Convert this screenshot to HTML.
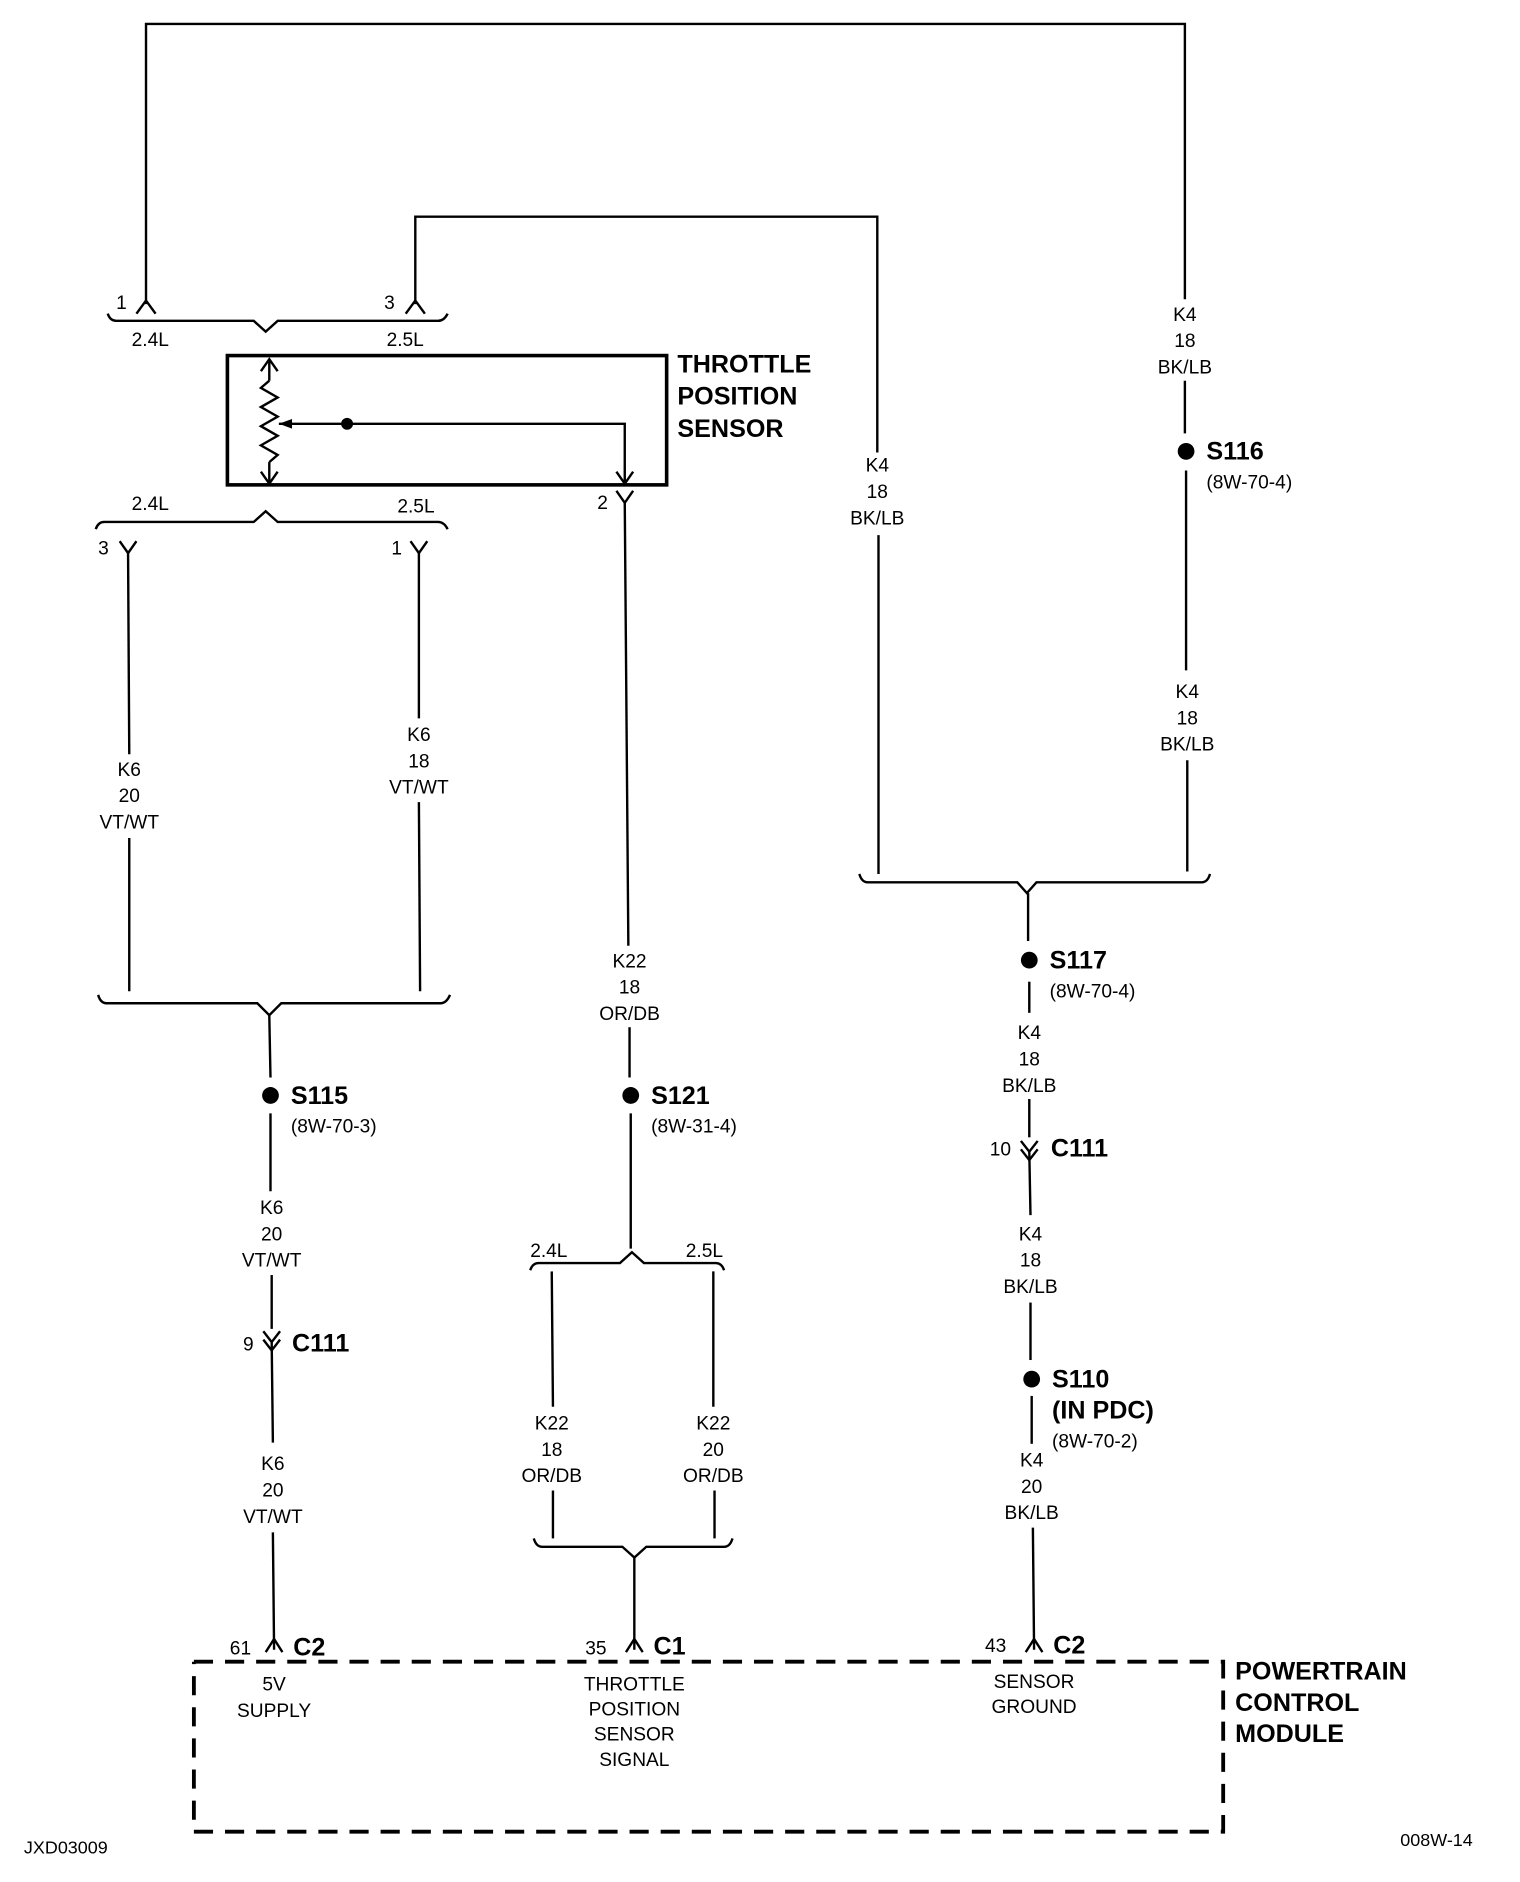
<!DOCTYPE html>
<html><head><meta charset="utf-8"><style>
html,body{margin:0;padding:0;background:#fff;}
svg{display:block;}
text{font-family:"Liberation Sans Narrow","Liberation Sans",sans-serif;font-size:16px;fill:#000;}
.b{font-weight:bold;font-size:21px;}
.m{text-anchor:middle;}
</style></head><body>
<svg width="1520" height="1882" viewBox="0 0 1270 1572" preserveAspectRatio="none" xmlns="http://www.w3.org/2000/svg">
<g fill="none" stroke="#000" stroke-width="2">
<polyline points="122,254 122,20 990,20 990,250"/>
<line x1="990" y1="318" x2="990" y2="362"/>
<line x1="991" y1="393" x2="991" y2="560"/>
<line x1="992" y1="635" x2="992" y2="728"/>
<polyline points="114,262 122,251 130,262"/>
<polyline points="347,254 347,181 733,181 733,378"/>
<line x1="734" y1="447" x2="734" y2="730"/>
<polyline points="339,262 347,251 355,262"/>
<path d="M90,262 Q92,268 97,268 L212,268 L222,277 L232,268 L366,268 Q371,268 374,262"/>
<rect x="190" y="297" width="367" height="108" stroke-width="3"/>
<line x1="225" y1="300" x2="225" y2="318"/>
<polyline points="225,318 218,324 232,332 218,340 232,348 218,356 232,364 218,372 232,380 225,386"/>
<line x1="225" y1="386" x2="225" y2="404"/>
<polyline points="218,310 225,300 232,310"/>
<polyline points="218,394 225,404 232,394"/>
<polyline points="233,354 522,354 522,404"/>
<polyline points="515,394 522,404 529,394"/>
<polyline points="515,410 522,420 529,410"/>
<line x1="522" y1="420" x2="525" y2="790"/>
<line x1="526" y1="858" x2="526" y2="900"/>
<line x1="527" y1="930" x2="527" y2="1043"/>
<path d="M80,442 Q82,436 87,436 L212,436 L222,427 L232,436 L366,436 Q371,436 374,442"/>
<polyline points="100,452 107,462 114,452"/>
<line x1="107" y1="462" x2="108" y2="630"/>
<line x1="108" y1="700" x2="108" y2="828"/>
<polyline points="343,452 350,462 357,452"/>
<line x1="350" y1="462" x2="350" y2="600"/>
<line x1="350" y1="670" x2="351" y2="828"/>
<path d="M82,831 Q84,838 89,838 L215,838 L225,848 L235,838 L368,838 Q373,838 376,831"/>
<line x1="225" y1="848" x2="226" y2="900"/>
<line x1="226" y1="930" x2="226" y2="995"/>
<line x1="227" y1="1065" x2="227" y2="1110"/>
<polyline points="220,1112 227,1121 234,1112"/>
<polyline points="220,1119 227,1128 234,1119"/>
<line x1="227" y1="1121" x2="228" y2="1205"/>
<line x1="228" y1="1280" x2="229" y2="1378"/>
<polyline points="222,1380 229,1369 236,1380"/>
<path d="M443,1061 Q445,1055 450,1055 L518,1055 L528,1046 L538,1055 L598,1055 Q603,1055 605,1061"/>
<line x1="461" y1="1062" x2="462" y2="1175"/>
<line x1="462" y1="1245" x2="462" y2="1285"/>
<line x1="596" y1="1062" x2="596" y2="1175"/>
<line x1="597" y1="1245" x2="597" y2="1285"/>
<path d="M446,1285 Q448,1292 453,1292 L520,1292 L530,1301 L540,1292 L605,1292 Q610,1292 612,1285"/>
<line x1="530" y1="1301" x2="530" y2="1378"/>
<polyline points="523,1380 530,1369 537,1380"/>
<path d="M718,730 Q720,737 725,737 L850,737 L858,746 L866,737 L1004,737 Q1009,737 1011,730"/>
<line x1="859" y1="746" x2="859" y2="786"/>
<line x1="860" y1="820" x2="860" y2="846"/>
<line x1="860" y1="918" x2="860" y2="950"/>
<polyline points="853,953 860,962 867,953"/>
<polyline points="853,960 860,969 867,960"/>
<line x1="860" y1="962" x2="861" y2="1015"/>
<line x1="861" y1="1088" x2="861" y2="1136"/>
<line x1="862" y1="1166" x2="862" y2="1206"/>
<line x1="863" y1="1276" x2="864" y2="1378"/>
<polyline points="857,1380 864,1369 871,1380"/>
<polyline points="162,1388 1022,1388 1022,1530 162,1530 162,1388" stroke-width="3.2" stroke-dasharray="16,10"/>
</g>
<g fill="#000">
<circle cx="290" cy="354" r="5"/>
<polygon points="233,354 244,350 244,358"/>
<circle cx="991" cy="377" r="7"/>
<circle cx="860" cy="802" r="7"/>
<circle cx="527" cy="915" r="7"/>
<circle cx="226" cy="915" r="7"/>
<circle cx="862" cy="1152" r="7"/>
</g>
<text x="97" y="258">1</text>
<text x="321" y="258">3</text>
<text x="110" y="289">2.4L</text>
<text x="323" y="289">2.5L</text>
<text class="b" x="566" y="311">THROTTLE</text>
<text class="b" x="566" y="338">POSITION</text>
<text class="b" x="566" y="365">SENSOR</text>
<text x="110" y="426">2.4L</text>
<text x="332" y="428">2.5L</text>
<text x="82" y="463">3</text>
<text x="327" y="463">1</text>
<text x="499" y="425">2</text>
<g class="m">
<text class="m" x="990" y="268">K4</text><text class="m" x="990" y="290">18</text><text class="m" x="990" y="312">BK/LB</text>
<text class="m" x="733" y="394">K4</text><text class="m" x="733" y="416">18</text><text class="m" x="733" y="438">BK/LB</text>
<text class="m" x="992" y="583">K4</text><text class="m" x="992" y="605">18</text><text class="m" x="992" y="627">BK/LB</text>
<text class="m" x="108" y="648">K6</text><text class="m" x="108" y="670">20</text><text class="m" x="108" y="692">VT/WT</text>
<text class="m" x="350" y="619">K6</text><text class="m" x="350" y="641">18</text><text class="m" x="350" y="663">VT/WT</text>
<text class="m" x="526" y="808">K22</text><text class="m" x="526" y="830">18</text><text class="m" x="526" y="852">OR/DB</text>
<text class="m" x="860" y="868">K4</text><text class="m" x="860" y="890">18</text><text class="m" x="860" y="912">BK/LB</text>
<text class="m" x="227" y="1014">K6</text><text class="m" x="227" y="1036">20</text><text class="m" x="227" y="1058">VT/WT</text>
<text class="m" x="861" y="1036">K4</text><text class="m" x="861" y="1058">18</text><text class="m" x="861" y="1080">BK/LB</text>
<text class="m" x="461" y="1194">K22</text><text class="m" x="461" y="1216">18</text><text class="m" x="461" y="1238">OR/DB</text>
<text class="m" x="596" y="1194">K22</text><text class="m" x="596" y="1216">20</text><text class="m" x="596" y="1238">OR/DB</text>
<text class="m" x="228" y="1228">K6</text><text class="m" x="228" y="1250">20</text><text class="m" x="228" y="1272">VT/WT</text>
<text class="m" x="862" y="1225">K4</text><text class="m" x="862" y="1247">20</text><text class="m" x="862" y="1269">BK/LB</text>
<text class="m" x="229" y="1412">5V</text><text class="m" x="229" y="1434">SUPPLY</text>
<text class="m" x="530" y="1412">THROTTLE</text><text class="m" x="530" y="1433">POSITION</text><text class="m" x="530" y="1454">SENSOR</text><text class="m" x="530" y="1475">SIGNAL</text>
<text class="m" x="864" y="1410">SENSOR</text><text class="m" x="864" y="1431">GROUND</text>
</g>
<text class="b" x="1008" y="384">S116</text><text x="1008" y="408">(8W-70-4)</text>
<text class="b" x="877" y="809">S117</text><text x="877" y="833">(8W-70-4)</text>
<text class="b" x="544" y="922">S121</text><text x="544" y="946">(8W-31-4)</text>
<text class="b" x="243" y="922">S115</text><text x="243" y="946">(8W-70-3)</text>
<text class="b" x="879" y="1159">S110</text><text class="b" x="879" y="1185">(IN PDC)</text><text x="879" y="1209">(8W-70-2)</text>
<text x="203" y="1128">9</text><text class="b" x="244" y="1129">C111</text>
<text x="827" y="965">10</text><text class="b" x="878" y="966">C111</text>
<text x="443" y="1050">2.4L</text><text x="573" y="1050">2.5L</text>
<text x="192" y="1382">61</text><text class="b" x="245" y="1383">C2</text>
<text x="489" y="1382">35</text><text class="b" x="546" y="1382">C1</text>
<text x="823" y="1380">43</text><text class="b" x="880" y="1381">C2</text>
<text class="b" x="1032" y="1403">POWERTRAIN</text>
<text class="b" x="1032" y="1429">CONTROL</text>
<text class="b" x="1032" y="1455">MODULE</text>
<text x="20" y="1548" style="font-size:15px">JXD03009</text>
<text x="1170" y="1542" style="font-size:15px">008W-14</text>
</svg>
</body></html>
